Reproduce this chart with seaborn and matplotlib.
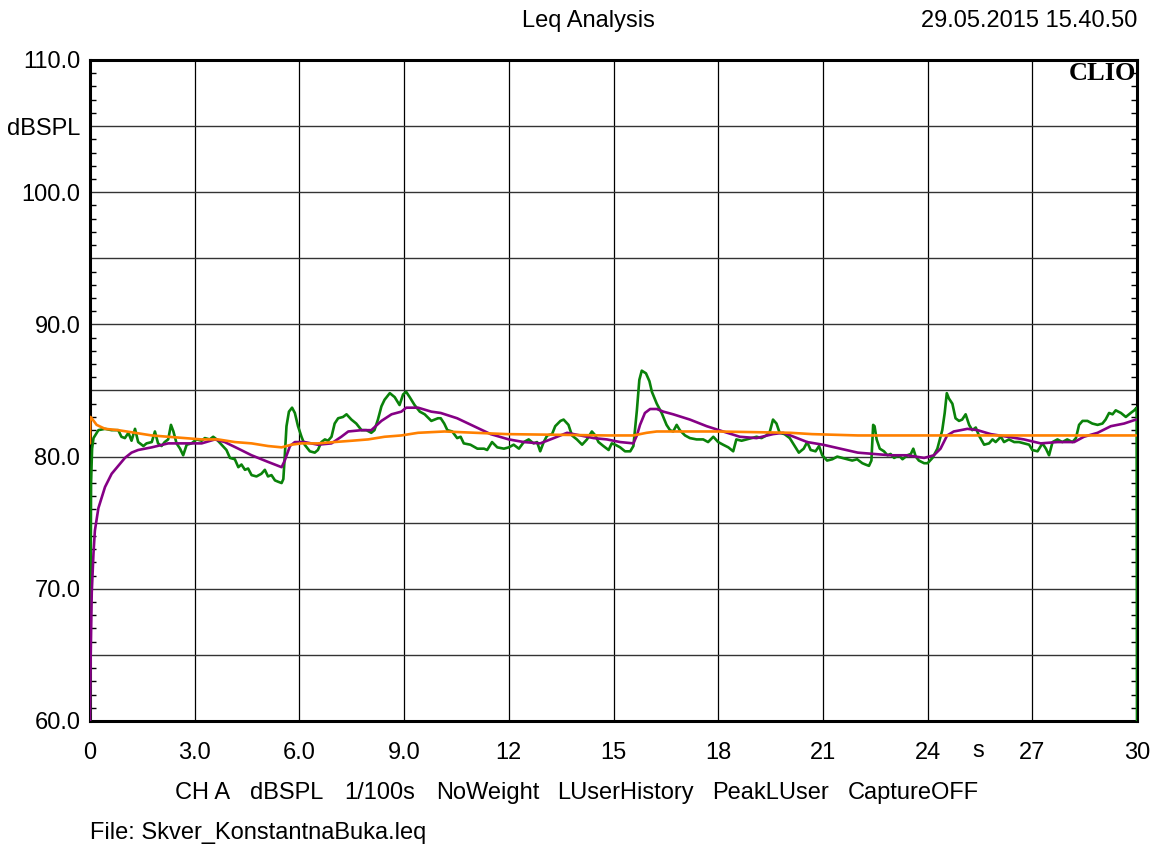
import numpy as np
import pandas as pd
import matplotlib
matplotlib.use("Agg")
import matplotlib.pyplot as plt
import seaborn as sns
from matplotlib.ticker import MultipleLocator

# ---------------- data ----------------
green_t = [0.0, 0.03, 0.06, 0.1, 0.24, 0.43, 0.62, 0.81, 0.9, 1.0, 1.1, 1.19, 1.29, 1.38, 1.53, 1.62,
           1.77, 1.86, 1.95, 2.05, 2.14, 2.24, 2.32, 2.39, 2.48, 2.58, 2.67, 2.77, 2.91, 3.05, 3.2,
           3.29, 3.43, 3.53, 3.63, 3.77, 3.91, 4.01, 4.15, 4.25, 4.34, 4.44, 4.53, 4.63, 4.77, 4.91,
           5.01, 5.1, 5.2, 5.3, 5.39, 5.49, 5.54, 5.58, 5.63, 5.70, 5.79, 5.87, 5.96, 6.06, 6.15,
           6.3, 6.44, 6.53, 6.63, 6.73, 6.82, 6.92, 7.01, 7.11, 7.25, 7.35, 7.49, 7.63, 7.78, 7.92,
           8.06, 8.15, 8.25, 8.35, 8.44, 8.59, 8.73, 8.87, 8.97, 9.06, 9.16, 9.3, 9.45, 9.59, 9.78,
           9.97, 10.05, 10.15, 10.24, 10.38, 10.52, 10.62, 10.71, 10.9, 11.1, 11.29, 11.38, 11.52,
           11.67, 11.86, 12.0, 12.14, 12.29, 12.43, 12.57, 12.71, 12.81, 12.9, 13.0, 13.1, 13.24,
           13.33, 13.48, 13.57, 13.71, 13.81, 13.95, 14.1, 14.24, 14.38, 14.48, 14.57, 14.71, 14.86,
           14.95, 15.05, 15.19, 15.33, 15.48, 15.57, 15.67, 15.74, 15.81, 15.93, 16.03, 16.1, 16.24,
           16.38, 16.52, 16.62, 16.71, 16.81, 16.9, 17.05, 17.19, 17.38, 17.57, 17.71, 17.86, 18.0,
           18.14, 18.29, 18.43, 18.52, 18.67, 18.81, 18.95, 19.1, 19.24, 19.38, 19.48, 19.57, 19.67,
           19.76, 19.9, 20.05, 20.19, 20.31, 20.45, 20.55, 20.65, 20.79, 20.89, 20.98, 21.12, 21.27,
           21.41, 21.55, 21.7, 21.84, 21.98, 22.13, 22.22, 22.32, 22.39, 22.44, 22.48, 22.54, 22.63,
           22.75, 22.85, 22.94, 23.04, 23.18, 23.28, 23.42, 23.52, 23.59, 23.66, 23.75, 23.9, 24.0,
           24.14, 24.28, 24.42, 24.49, 24.55, 24.61, 24.71, 24.8, 24.9, 24.99, 25.09, 25.19, 25.28,
           25.38, 25.47, 25.62, 25.76, 25.86, 25.95, 26.1, 26.19, 26.33, 26.48, 26.62, 26.76, 26.91,
           27.0, 27.15, 27.29, 27.39, 27.48, 27.58, 27.72, 27.86, 28.0, 28.15, 28.25, 28.34, 28.44,
           28.58, 28.72, 28.87, 29.01, 29.1, 29.2, 29.3, 29.39, 29.54, 29.68, 29.82, 29.92, 29.99,
           30.0]
green_v = [60.0, 78.0, 80.6, 81.4, 82.0, 82.1, 82.0, 82.0, 81.5, 81.4, 81.8, 81.2, 82.1, 81.1, 80.8, 81.0,
           81.1, 81.9, 81.0, 80.8, 81.1, 81.3, 82.4, 81.9, 81.0, 80.6, 80.1, 80.9, 81.0, 81.3, 81.2,
           81.4, 81.3, 81.5, 81.3, 80.9, 80.5, 79.9, 79.8, 79.2, 79.4, 79.0, 79.1, 78.6, 78.5, 78.7,
           79.0, 78.5, 78.6, 78.2, 78.1, 78.0, 78.3, 80.0, 82.3, 83.4, 83.7, 83.3, 82.3, 81.5, 80.9,
           80.4, 80.3, 80.5, 81.1, 81.3, 81.2, 81.5, 82.5, 82.9, 83.0, 83.2, 82.8, 82.5, 82.0, 82.0,
           81.8, 82.0, 82.8, 83.8, 84.3, 84.8, 84.5, 83.9, 84.7, 84.9, 84.5, 83.9, 83.4, 83.2, 82.7,
           82.9, 82.9, 82.5, 82.0, 81.9, 81.4, 81.5, 81.0, 80.9, 80.6, 80.6, 80.5, 81.1,
           80.7, 80.6, 80.7, 80.9, 80.6, 81.1, 81.3, 81.0, 81.1, 80.4, 81.1, 81.6, 81.7,
           82.3, 82.7, 82.8, 82.4, 81.6, 81.3, 80.9, 81.3, 81.9, 81.6, 81.1, 80.8, 80.5,
           81.0, 80.9, 80.7, 80.4, 80.4, 80.8, 83.5, 85.8, 86.5, 86.3, 85.7, 84.9, 84.0,
           83.3, 82.4, 82.0, 81.9, 82.4, 82.0, 81.6, 81.4, 81.3, 81.3, 81.1, 81.5, 81.1,
           80.9, 80.7, 80.4, 81.3, 81.2, 81.3, 81.4, 81.5, 81.4, 81.6, 81.9, 82.8, 82.5,
           81.8, 81.7, 81.4, 80.8, 80.3, 80.6, 81.1, 80.5, 80.4, 80.8, 80.1, 79.7, 79.8,
           80.0, 79.9, 79.8, 79.7, 79.8, 79.5, 79.4, 79.3, 79.7, 82.4, 82.3, 81.3, 80.6,
           80.4, 80.1, 80.2, 79.9, 80.1, 79.8, 80.1, 80.2, 80.6, 80.0, 79.7, 79.5, 79.5,
           79.9, 80.6, 82.0, 83.3, 84.8, 84.4, 84.0, 82.9, 82.7, 82.8, 83.2, 82.4, 82.0,
           82.2, 81.6, 80.9, 81.0, 81.3, 81.1, 81.5, 81.1, 81.3, 81.1, 81.1, 81.0, 80.9,
           80.5, 80.4, 81.0, 80.6, 80.1, 81.1, 81.3, 81.1, 81.3, 81.1, 81.4, 82.4, 82.7,
           82.7, 82.5, 82.4, 82.5, 82.8, 83.3, 83.2, 83.5, 83.3, 83.0, 83.3, 83.5, 83.7,
           60.0]

purple_t = [0.0, 0.02, 0.05, 0.1, 0.14, 0.24, 0.43, 0.62, 0.81, 1.0, 1.19, 1.38, 1.77, 2.24, 2.72,
            3.2, 3.58, 3.86, 4.25, 4.63, 5.1, 5.49, 5.58, 5.73, 5.87, 6.15, 6.53, 6.92, 7.2, 7.4,
            7.78, 8.06, 8.35, 8.64, 8.92, 9.06, 9.4, 9.78, 10.05, 10.52, 11.0, 11.48, 12.0, 12.43,
            12.9, 13.29, 13.67, 14.05, 14.43, 14.81, 15.19, 15.57, 15.67, 15.76, 15.9, 16.05, 16.24,
            16.43, 16.71, 17.19, 17.67, 18.14, 18.62, 19.1, 19.57, 19.86, 20.07, 20.55, 21.0, 21.5,
            22.0, 22.46, 22.94, 23.42, 23.9, 24.18, 24.37, 24.56, 24.75, 24.95, 25.14, 25.43, 25.81,
            26.29, 26.76, 27.24, 27.72, 28.2, 28.48, 28.87, 29.25, 29.63, 29.97]
purple_v = [60.0, 65.0, 69.7, 72.7, 74.4, 76.1, 77.7, 78.7, 79.3, 79.9, 80.3, 80.5, 80.7, 81.0, 81.0,
            81.0, 81.3, 81.1, 80.6, 80.1, 79.6, 79.2, 79.7, 80.8, 81.1, 81.1, 80.9, 81.0, 81.5, 81.9,
            82.0, 82.0, 82.7, 83.2, 83.4, 83.7, 83.7, 83.4, 83.3, 82.9, 82.3, 81.7, 81.3, 81.1,
            81.0, 81.4, 81.8, 81.6, 81.4, 81.3, 81.1, 81.0, 81.6, 82.4, 83.3, 83.6, 83.6,
            83.4, 83.2, 82.8, 82.3, 81.9, 81.5, 81.4, 81.7, 81.8, 81.6, 81.1, 80.9, 80.6,
            80.3, 80.2, 80.1, 80.1, 79.9, 80.1, 80.6, 81.6, 81.9, 82.0, 82.1, 82.0, 81.7,
            81.5, 81.3, 81.0, 81.1, 81.1, 81.5, 81.8, 82.3, 82.5, 82.8]

orange_t = [0.0, 0.01, 0.05, 0.19, 0.43, 0.81, 1.29, 1.77, 2.24, 2.72, 3.2, 3.67, 4.15, 4.63, 5.1,
            5.49, 5.77, 6.06, 6.53, 7.0, 7.5, 7.97, 8.44, 8.92, 9.4, 10.16, 11.95, 14.81, 15.57,
            15.95, 16.24, 18.0, 20.07, 20.69, 22.0, 23.6, 29.97]
orange_v = [81.0, 83.0, 82.9, 82.4, 82.1, 82.0, 81.8, 81.6, 81.5, 81.4, 81.3, 81.3, 81.1, 81.0, 80.8,
            80.7, 80.9, 81.0, 81.0, 81.1, 81.2, 81.3, 81.5, 81.6, 81.8, 81.9, 81.7, 81.6, 81.6,
            81.8, 81.9, 81.9, 81.8, 81.7, 81.6, 81.6, 81.6]

x_ticks = [0, 3, 6, 9, 12, 15, 18, 21, 24, 27, 30]
x_ticklabels = ["0", "3.0", "6.0", "9.0", "12", "15", "18", "21", "24", "27", "30"]
y_ticks = [60, 65, 70, 75, 80, 85, 90, 95, 100, 105, 110]
y_ticklabels = ["60.0", "", "70.0", "", "80.0", "", "90.0", "", "100.0", "dBSPL", "110.0"]

title = "Leq Analysis"
stamp = "29.05.2015 15.40.50"
status_words = ["CH A", "dBSPL", "1/100s", "NoWeight", "LUserHistory", "PeakLUser", "CaptureOFF"]
file_label = "File: Skver_KonstantnaBuka.leq"

# ---------------- plotting ----------------
sns.set_style("white")
plt.rcParams['font.family'] = ['Liberation Sans', 'DejaVu Sans']
plt.rcParams['text.color'] = 'black'
plt.rcParams['xtick.color'] = 'black'
plt.rcParams['ytick.color'] = 'black'

FS = 17
W, H = 1157, 848
fig = plt.figure(figsize=(W / 100, H / 100), dpi=100)
ax = fig.add_axes([90 / W, 1 - 721 / H, 1047 / W, 661 / H])

df_g = pd.DataFrame({"t": green_t, "v": green_v})
df_p = pd.DataFrame({"t": purple_t, "v": purple_v})
df_o = pd.DataFrame({"t": orange_t, "v": orange_v})

sns.lineplot(data=df_g, x="t", y="v", ax=ax, color="#0a820a", lw=1.9, estimator=None, sort=False, zorder=3)
sns.lineplot(data=df_p, x="t", y="v", ax=ax, color="#850085", lw=1.9, estimator=None, sort=False, zorder=4)
sns.lineplot(data=df_o, x="t", y="v", ax=ax, color="#ff8000", lw=1.9, estimator=None, sort=False, zorder=5)

ax.set_xlim(0, 30)
ax.set_ylim(60, 110)
ax.set_xlabel("")
ax.set_ylabel("")

for xv in x_ticks[1:-1]:
    ax.axvline(xv, color="black", lw=0.9, zorder=1)
for yv in y_ticks[1:-1]:
    ax.axhline(yv, color="#333333", lw=1.0, zorder=1)

ax.set_xticks(x_ticks)
ax.set_xticklabels(x_ticklabels)
ax.set_yticks(y_ticks)
ax.set_yticklabels(y_ticklabels)
ax.yaxis.set_minor_locator(MultipleLocator(1))
ax.tick_params(axis="both", which="major", length=0, labelsize=FS, colors="black")
ax.tick_params(axis="x", which="major", pad=15)
ax.tick_params(axis="y", which="major", pad=7)
ax.tick_params(axis="y", which="minor", direction="in", length=4, width=1.0,
               left=True, right=True, color="black")

for sp in ax.spines.values():
    sp.set_visible(True)
    sp.set_color("black")
    sp.set_linewidth(2.2)

ax.text(0.9995, 0.997, "CLIO", transform=ax.transAxes, ha="right", va="top", color="black",
        fontsize=19, fontweight="bold", family=["Liberation Serif", "DejaVu Serif"], zorder=6)

fig.text(588 / W, 1 - 21 / H, title, ha="center", va="center", fontsize=FS, color="black")
fig.text(1137 / W, 1 - 21 / H, stamp, ha="right", va="center", fontsize=FS, color="black")
fig.text(978 / W, 1 - 757 / H, "s", ha="center", va="baseline", fontsize=FS, color="black")

status_x = [175, 250, 344, 436, 557, 712, 848]
for xw, word in zip(status_x, status_words):
    fig.text(xw / W, 1 - 799 / H, word, ha="left", va="baseline", fontsize=FS, color="black")
fig.text(90 / W, 1 - 839 / H, file_label, ha="left", va="baseline", fontsize=FS, color="black")

fig.savefig("out.png", dpi=100, facecolor="white")
